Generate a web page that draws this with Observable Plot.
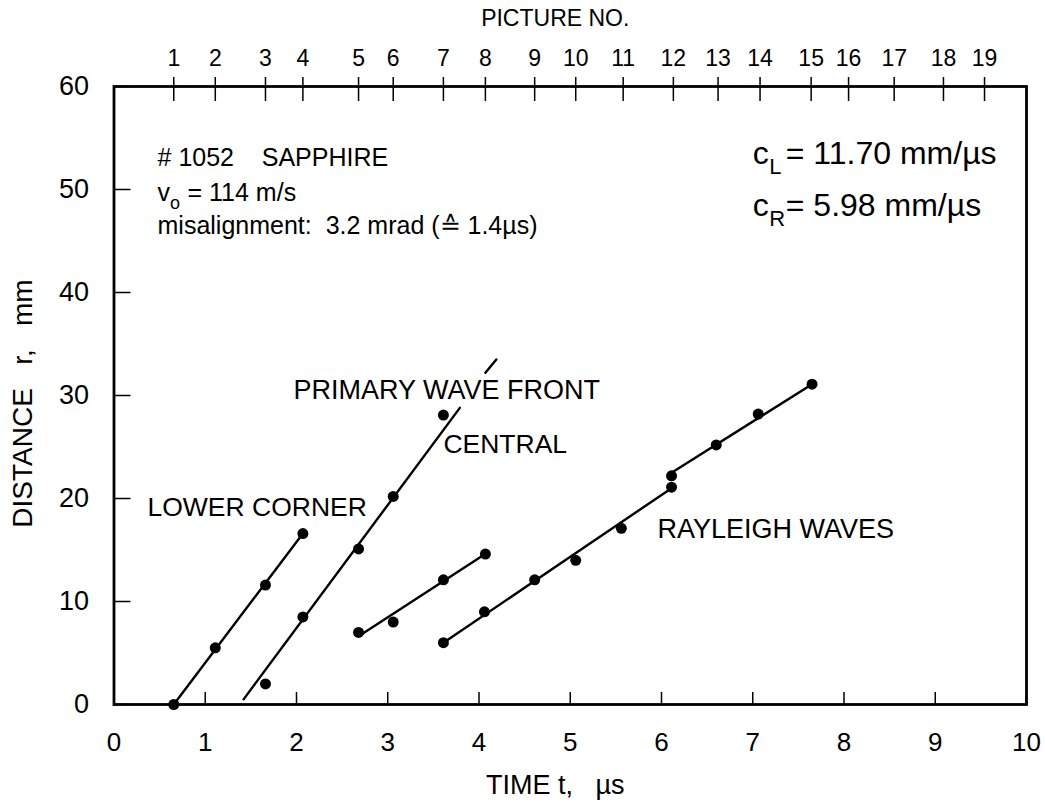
<!DOCTYPE html>
<html><head><meta charset="utf-8">
<script src="https://cdn.jsdelivr.net/npm/d3@7"></script>
<script src="https://cdn.jsdelivr.net/npm/@observablehq/plot@0.6"></script>
<style>
body{margin:0;background:#fff}
svg{font-family:"Liberation Sans",Arial,Helvetica,sans-serif}
</style>
</head><body><div id="chart"></div>
<script>
// ---- data (t in µs, r in mm) ----
const lowerT = [0.655, 1.11, 1.66, 2.07];
const lowerR = [0, 5.5, 11.6, 16.6];
const primaryT = [1.66, 2.07, 2.68, 3.06, 3.61];
const primaryR = [2.0, 8.5, 15.1, 20.2, 28.1];
const midT = [2.68, 3.06, 3.61, 4.07];
const midR = [7.0, 8.0, 12.1, 14.6];
const rayT = [3.61, 4.06, 4.61, 5.06, 5.56, 6.11, 6.11, 6.60, 7.06, 7.65];
const rayR = [6.0, 9.0, 12.1, 14.0, 17.1, 21.1, 22.2, 25.2, 28.2, 31.1];

// fitted line segments (start/end)
const segIds = ["lower", "primary", "primaryTail", "mid", "ray1", "ray2"];
const segT = [[0.655, 2.07], [1.42, 3.79], [4.07, 4.19], [2.71, 4.03], [3.61, 6.11], [6.11, 7.65]];
const segR = [[0, 16.6], [0.5, 28.8], [32.2, 33.5], [6.8, 14.4], [6.0, 21.0], [22.5, 31.1]];

// axes
const timeTicks = [0, 1, 2, 3, 4, 5, 6, 7, 8, 9, 10];
const distTicks = [0, 10, 20, 30, 40, 50, 60];
const pictureNo = [1, 2, 3, 4, 5, 6, 7, 8, 9, 10, 11, 12, 13, 14, 15, 16, 17, 18, 19];
const pictureT = [0.655, 1.11, 1.66, 2.07, 2.68, 3.06, 3.61, 4.07, 4.61, 5.06, 5.58, 6.13, 6.62, 7.08, 7.64, 8.05, 8.55, 9.09, 9.54];

// ---- build tables ----
const points = [
  ...lowerT.map((t, i) => ({t, r: lowerR[i]})),
  ...primaryT.map((t, i) => ({t, r: primaryR[i]})),
  ...midT.map((t, i) => ({t, r: midR[i]})),
  ...rayT.map((t, i) => ({t, r: rayR[i]}))
];
const segments = segIds.flatMap((id, k) => segT[k].map((t, j) => ({id, t, r: segR[k][j]})));
const picMap = new Map(pictureT.map((t, i) => [t, pictureNo[i]]));

const narrow = "'Liberation Sans Narrow','Liberation Sans',Arial,sans-serif";

function label(text, t, r, opts = {}) {
  return Plot.text([{t, r, text}], {x: "t", y: "r", text: "text", textAnchor: "start", lineAnchor: "bottom",
    fontSize: 25, fill: "black", ...opts});
}

const chart = Plot.plot({
  width: 1045,
  height: 808,
  marginLeft: 113.5,
  marginRight: 19,
  marginTop: 86,
  marginBottom: 104,
  x: {domain: [0, 10]},
  y: {domain: [0, 60]},
  style: {fontFamily: "'Liberation Sans',Arial,sans-serif", background: "white"},
  marks: [
    // axes
    Plot.axisX(timeTicks, {anchor: "bottom", tickSize: -12, tickPadding: 40, fontSize: 26, label: null, strokeWidth: 1.5, fontFamily: narrow, tickFormat: d => String(d)}),
    Plot.axisY(distTicks, {anchor: "left", tickSize: -17, tickPadding: 42, fontSize: 27, label: null, strokeWidth: 1.5, tickFormat: d => String(d)}),
    Plot.axisX(pictureT, {anchor: "top", tickSize: 10, tickPadding: 11, fontSize: 23, label: null, strokeWidth: 1.5, fontFamily: narrow, tickFormat: d => String(picMap.get(d))}),
    Plot.axisX(pictureT, {anchor: "top", tickSize: -14, label: null, strokeWidth: 1.5, tickFormat: () => ""}),
    Plot.frame({stroke: "black", strokeWidth: 2.8}),
    // axis titles
    Plot.text(["PICTURE NO."], {frameAnchor: "top", textAnchor: "middle", dx: -15, dy: -68, fontSize: 23, fontFamily: narrow, lineAnchor: "middle"}),
    Plot.text(["TIME t,\u00a0\u00a0\u00a0\u00b5s"], {frameAnchor: "bottom", textAnchor: "middle", dx: -15, dy: 81, fontSize: 27, fontFamily: narrow, lineAnchor: "middle"}),
    Plot.text(["DISTANCE\u00a0\u00a0\u00a0r,\u00a0\u00a0\u00a0mm"], {frameAnchor: "left", textAnchor: "middle", dx: -91, dy: 8, rotate: -90, fontSize: 28, lineAnchor: "middle"}),
    // data
    Plot.line(segments, {x: "t", y: "r", z: "id", stroke: "black", strokeWidth: 2.4}),
    Plot.dot(points, {x: "t", y: "r", r: 5.5, fill: "black", stroke: "none"}),
    // in-plot labels
    label("PRIMARY WAVE FRONT", 1.967, 29.7, {fontSize: 27}),
    label("CENTRAL", 3.61, 24.4, {fontSize: 26.5}),
    label("LOWER CORNER", 0.367, 18.3, {fontSize: 26.5}),
    label("RAYLEIGH WAVES", 5.955, 16.2, {fontSize: 27}),
    // info block
    label("# 1052\u00a0\u00a0\u00a0\u00a0SAPPHIRE", 0.477, 52.3),
    label("v", 0.477, 48.9),
    label("o", 0.477, 48.9, {dx: 12.5, dy: 8, fontSize: 18}),
    label("=\u00a0114 m/s", 0.477, 48.9, {dx: 30}),
    label("misalignment:\u00a0\u00a03.2 mrad (\u2259 1.4\u00b5s)", 0.477, 45.7),
    label("c", 7.0, 52.5, {fontSize: 32}),
    label("L", 7.0, 52.5, {dx: 16.5, dy: 10, fontSize: 22}),
    label("=\u00a011.70 mm/\u00b5s", 7.0, 52.5, {dx: 33, fontSize: 32}),
    label("c", 7.0, 47.4, {fontSize: 32}),
    label("R", 7.0, 47.4, {dx: 16.5, dy: 10, fontSize: 22}),
    label("=\u00a05.98 mm/\u00b5s", 7.0, 47.4, {dx: 33, fontSize: 32})
  ]
});
document.getElementById("chart").appendChild(chart);
</script>
</body></html>
